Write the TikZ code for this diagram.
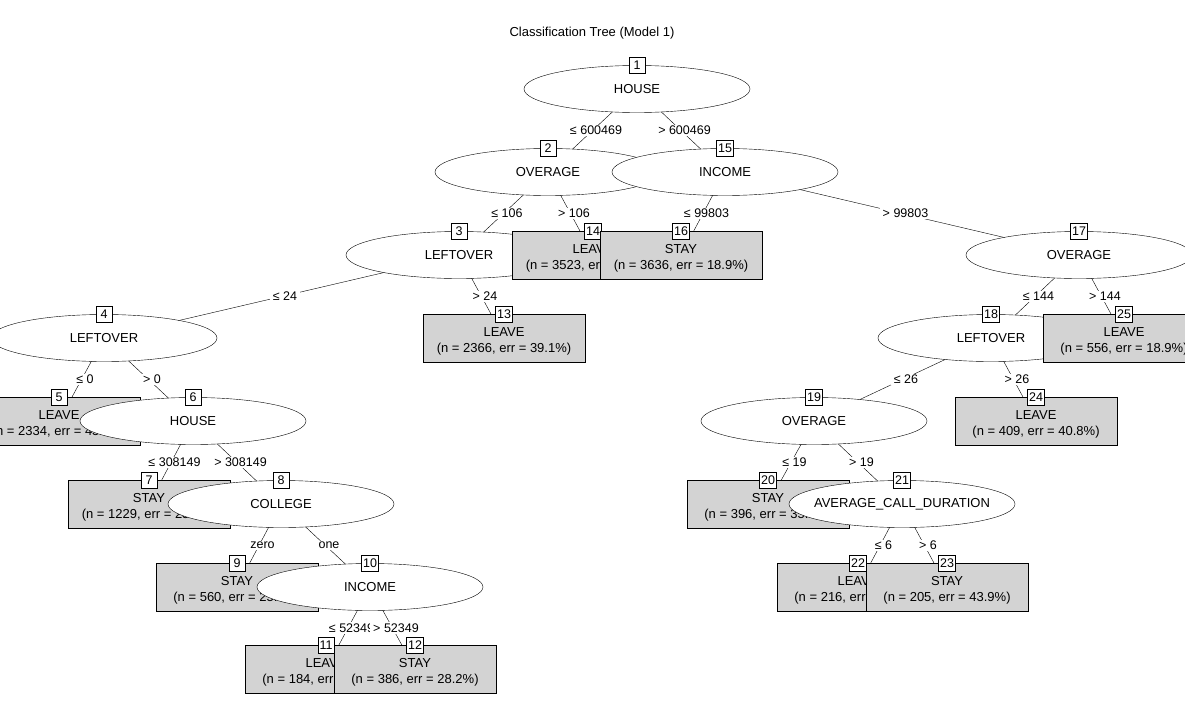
\documentclass[tikz,border=0pt]{standalone}
\usepackage{fontspec}
\setmainfont{Liberation Sans}
\usetikzlibrary{shapes.geometric,backgrounds}
\definecolor{termgray}{RGB}{211,211,211}
\newcommand{\leafstrut}{\rule{0pt}{15.5pt}}

\begin{document}
\begin{tikzpicture}[x=1pt,y=-1pt,
        splitnode/.style={ellipse,draw,fill=white,minimum width=226pt,
            minimum height=47pt,inner sep=0pt,font=\fontsize{13}{16}\selectfont},
        leaf/.style={rectangle,draw,fill=termgray,minimum width=162pt,
            minimum height=48pt,inner sep=0pt,align=center,
            font=\fontsize{13}{16}\selectfont},
        nid/.style={draw,fill=white,minimum width=16pt,minimum height=16pt,
            inner sep=1.5pt,font=\fontsize{12.5}{14}\selectfont},
        edgelab/.style={fill=white,inner xsep=3pt,inner ysep=1.5pt,xshift=3.5pt,
            font=\fontsize{12.5}{14}\selectfont}]
        \useasboundingbox (0,0) rectangle (1185,726);

        % title
        \node[font=\fontsize{13}{16}\selectfont] (title) at (592,33)
            {Classification Tree (Model 1)};

        % root and left branch
        \node[splitnode] (n1) at (637,89) {HOUSE};
        \node[nid] (id1) at (n1.north) {1};
        \node[splitnode] (n2) at (548,172) {OVERAGE};
        \node[nid] (id2) at (n2.north) {2};
        \node[splitnode] (n3) at (459,255) {LEFTOVER};
        \node[nid] (id3) at (n3.north) {3};
        \node[splitnode] (n4) at (104,338) {LEFTOVER};
        \node[nid] (id4) at (n4.north) {4};
        \node[leaf] (n5) at (59,421) {\leafstrut LEAVE\\(n = 2334, err = 45.0\%)};
        \node[nid] (id5) at (n5.north) {5};
        \node[splitnode] (n6) at (193,421) {HOUSE};
        \node[nid] (id6) at (n6.north) {6};
        \node[leaf] (n7) at (149,504) {\leafstrut STAY\\(n = 1229, err = 25.0\%)};
        \node[nid] (id7) at (n7.north) {7};
        \node[splitnode] (n8) at (281,504) {COLLEGE};
        \node[nid] (id8) at (n8.north) {8};
        \node[leaf] (n9) at (237,587) {\leafstrut STAY\\(n = 560, err = 25.0\%)};
        \node[nid] (id9) at (n9.north) {9};
        \node[splitnode] (n10) at (370,587) {INCOME};
        \node[nid] (id10) at (n10.north) {10};
        \node[leaf] (n11) at (326,669) {\leafstrut LEAVE\\(n = 184, err = 45.0\%)};
        \node[nid] (id11) at (n11.north) {11};
        \node[leaf] (n12) at (415,669) {\leafstrut STAY\\(n = 386, err = 28.2\%)};
        \node[nid] (id12) at (n12.north) {12};
        \node[leaf] (n13) at (504,338) {\leafstrut LEAVE\\(n = 2366, err = 39.1\%)};
        \node[nid] (id13) at (n13.north) {13};
        \node[leaf] (n14) at (593,255) {\leafstrut LEAVE\\(n = 3523, err = 30.0\%)};
        \node[nid] (id14) at (n14.north) {14};

        % right branch
        \node[splitnode] (n15) at (725,172) {INCOME};
        \node[nid] (id15) at (n15.north) {15};
        \node[leaf] (n16) at (681,255) {\leafstrut STAY\\(n = 3636, err = 18.9\%)};
        \node[nid] (id16) at (n16.north) {16};
        \node[splitnode] (n17) at (1079,255) {OVERAGE};
        \node[nid] (id17) at (n17.north) {17};
        \node[splitnode] (n18) at (991,338) {LEFTOVER};
        \node[nid] (id18) at (n18.north) {18};
        \node[splitnode] (n19) at (814,421) {OVERAGE};
        \node[nid] (id19) at (n19.north) {19};
        \node[leaf] (n20) at (768,504) {\leafstrut STAY\\(n = 396, err = 35.0\%)};
        \node[nid] (id20) at (n20.north) {20};
        \node[splitnode,inner xsep=-8pt] (n21) at (902,504) {AVERAGE\_CALL\_DURATION};
        \node[nid] (id21) at (n21.north) {21};
        \node[leaf] (n22) at (858,587) {\leafstrut LEAVE\\(n = 216, err = 40.0\%)};
        \node[nid] (id22) at (n22.north) {22};
        \node[leaf] (n23) at (947,587) {\leafstrut STAY\\(n = 205, err = 43.9\%)};
        \node[nid] (id23) at (n23.north) {23};
        \node[leaf] (n24) at (1036,421) {\leafstrut LEAVE\\(n = 409, err = 40.8\%)};
        \node[nid] (id24) at (n24.north) {24};
        \node[leaf] (n25) at (1124,338) {\leafstrut LEAVE\\(n = 556, err = 18.9\%)};
        \node[nid] (id25) at (n25.north) {25};

        % edges with split labels, behind the nodes
        \begin{pgfonlayer}{background}
        \foreach \a/\b/\t in {n1/n2/{≤ 600469}, n1/n15/{> 600469},
            n2/n3/{≤ 106}, n2/n14/{> 106},
            n3/n4/{≤ 24}, n3/n13/{> 24},
            n4/n5/{≤ 0}, n4/n6/{> 0},
            n6/n7/{≤ 308149}, n6/n8/{> 308149},
            n8/n9/{zero}, n8/n10/{one},
            n10/n11/{≤ 52349}, n10/n12/{> 52349},
            n15/n16/{≤ 99803}, n15/n17/{> 99803},
            n17/n18/{≤ 144}, n17/n25/{> 144},
            n18/n19/{≤ 26}, n18/n24/{> 26},
            n19/n20/{≤ 19}, n19/n21/{> 19},
            n21/n22/{≤ 6}, n21/n23/{> 6}} {
          \draw (\a.center) -- (\b.center) node[edgelab,midway] {\t};
        }
        \end{pgfonlayer}
    \end{tikzpicture}
\end{document}
